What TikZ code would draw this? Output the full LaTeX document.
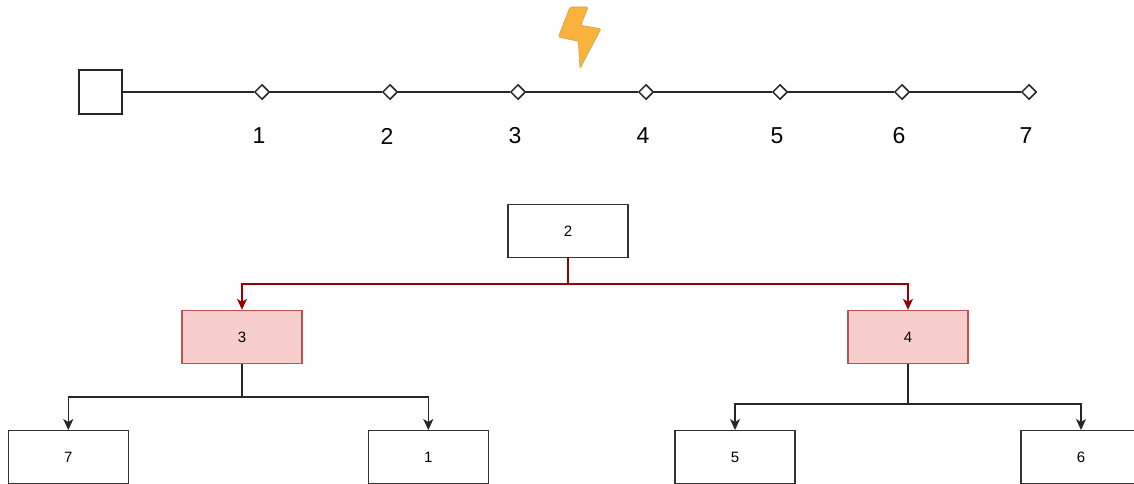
\documentclass[tikz,border=0pt]{standalone}
\usepackage{fontspec}
\setmainfont{Liberation Sans}
\usetikzlibrary{arrows.meta,shapes.geometric}
\definecolor{boltorange}{HTML}{F9B23C}
\definecolor{hotfill}{HTML}{F8CECC}
\definecolor{hotdraw}{HTML}{B85450}
\definecolor{hotline}{HTML}{990000}
\tikzset{
ARC/.style ={draw=black!85,line width=1.6pt},
LINK/.style ={draw=black!85,line width=1.5pt,-{Stealth[length=11pt,width=10pt,inset=3pt]}},
HOTLINK/.style ={LINK,draw=hotline,-{Stealth[length=11pt,width=10pt,inset=3pt,fill=hotline]}},
BOX/.style={draw=black!80,line width=1.3pt,fill=white,minimum width=120pt,minimum height=53pt,inner sep=0pt,font=\fontsize{15}{15}\selectfont},
HOTBOX/.style={BOX,draw=hotdraw,fill=hotfill},
PIN/.style={draw=black!85,line width=1.5pt,fill=white,diamond,minimum size=15pt,inner sep=0pt},
TAG/.style={font=\fontsize{23}{23}\selectfont,inner sep=0pt},
}
\begin{document}
\begin{tikzpicture}[x=1pt,y=-1pt]
	\useasboundingbox (0,0) rectangle (1134,484);
	\clip (0,0) rectangle (1134,484);
	% bolt
	\fill[boltorange,draw=boltorange!70!gray,line width=0.6pt,rounded corners=1.5pt] (570,7) -- (588.3,7) -- (580.7,25.3) -- (601,28.7) -- (580,68.7) -- (578.3,41.3) -- (558.3,37) -- cycle;
	% timeline
	\node[draw=black!85,line width=1.8pt,minimum width=43pt,minimum height=44pt,inner sep=0pt] (sq) at (100.5,92) {};
	\foreach \x/\n in {262/1,390/2,518/3,646/4,780/5,902/6,1029/7} {
		\node[PIN] (d\n) at (\x,92) {};
		\node[TAG] (t\n) at (\x-3,136) {\n};
	}
	\draw[ARC] (sq) -- (d1) -- (d2) -- (d3) -- (d4) -- (d5) -- (d6) -- (d7);
	% tree
	\node[BOX] (n2) at (568,231) {2};
	\node[HOTBOX] (n3) at (242,337) {3};
	\node[HOTBOX] (n4) at (908,337) {4};
	\node[BOX] (n7) at (68.3,457.2) {7};
	\node[BOX] (n1) at (428.3,457.2) {1};
	\node[BOX] (n5) at (735,457.2) {5};
	\node[BOX] (n6) at (1081,457.2) {6};
	\draw[HOTLINK] (n2.south) -- ++(0,26) -| (n3.north);
	\draw[HOTLINK] (n2.south) -- ++(0,26) -| (n4.north);
	\draw[LINK] (n3.south) -- ++(0,33) -| (n7.north);
	\draw[LINK] (n3.south) -- ++(0,33) -| (n1.north);
	\draw[LINK] (n4.south) -- ++(0,40) -| (n5.north);
	\draw[LINK] (n4.south) -- ++(0,40) -| (n6.north);
\end{tikzpicture}
\end{document}
